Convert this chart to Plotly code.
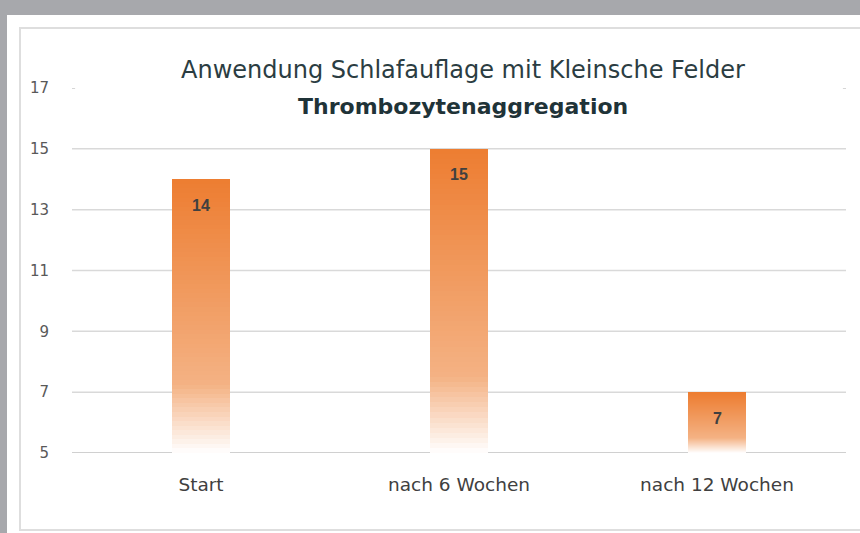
import plotly.graph_objects as go

categories = ["Start", "nach 6 Wochen", "nach 12 Wochen"]
values = [14, 15, 7]
tick_values = [5, 7, 9, 11, 13, 15, 17]
title_line1 = "Anwendung Schlafauflage mit Kleinsche Felder"
title_line2 = "Thrombozytenaggregation"

Y_MIN, Y_MAX = 5, 17
W, H = 860, 533
ML, MR, MT, MB = 72, 14, 88, 80
PW, PH = W - ML - MR, H - MT - MB


def px_x(p):
    return (p - ML) / PW


def px_y(p):
    return (H - MB - p) / PH


def lerp(c1, c2, t):
    return tuple(round(a + (b - a) * t) for a, b in zip(c1, c2))


ORANGE = (237, 125, 49)
MID = (244, 178, 132)
WHITE = (255, 255, 255)
BREAK = 0.25


def grad_color(f):
    # f = 1 at bar top, 0 at base
    if f >= BREAK:
        c = lerp(MID, ORANGE, (f - BREAK) / (1 - BREAK))
    else:
        c = lerp(WHITE, MID, f / BREAK)
    return "rgb(%d,%d,%d)" % c


fig = go.Figure()
N = 60
for k in range(N):
    f_mid = (k + 0.5) / N
    fig.add_trace(go.Bar(
        x=categories,
        y=[(v - Y_MIN) / N for v in values],
        base=[Y_MIN + (v - Y_MIN) * k / N for v in values],
        marker=dict(color=grad_color(f_mid), line=dict(width=0)),
        width=0.225,
        hoverinfo="skip",
        showlegend=False,
    ))

# data labels
for c, v in zip(categories, values):
    fig.add_annotation(
        x=c, y=v, text="<b>%d</b>" % v, showarrow=False, yanchor="middle", yshift=-26,
        font=dict(family="Liberation Sans, Arial", size=16, color="#404040"),
    )

shapes = []
# gridlines
for t in tick_values:
    if t == Y_MAX:
        for a, b in [(0.0, 0.004), (0.996, 1.0)]:
            shapes.append(dict(type="line", xref="paper", yref="y", x0=a, x1=b, y0=t, y1=t,
                               line=dict(color="#c8c8c8", width=1.5), layer="below"))
    else:
        shapes.append(dict(type="line", xref="paper", yref="y", x0=0, x1=1, y0=t, y1=t,
                           line=dict(color="#d9d9d9" if t != Y_MIN else "#d0d0d0",
                                     width=1.5 if t != Y_MIN else 2), layer="below"))

# frame: gray page bands and card border
shapes.append(dict(type="rect", xref="paper", yref="paper", x0=px_x(-5), x1=px_x(W + 5),
                   y0=px_y(15), y1=px_y(-5), fillcolor="#a7a8ac", line=dict(width=0), layer="above"))
shapes.append(dict(type="rect", xref="paper", yref="paper", x0=px_x(-5), x1=px_x(7),
                   y0=px_y(H + 5), y1=px_y(-5), fillcolor="#a7a8ac", line=dict(width=0), layer="above"))
shapes.append(dict(type="rect", xref="paper", yref="paper", x0=px_x(20), x1=px_x(W + 20),
                   y0=px_y(530), y1=px_y(28), fillcolor="rgba(0,0,0,0)",
                   line=dict(color="#dedede", width=2), layer="below"))

fig.add_annotation(
    xref="paper", yref="paper", x=px_x(463), y=px_y(70), text=title_line1, showarrow=False,
    xanchor="center", yanchor="middle",
    font=dict(family="DejaVu Sans", size=24, color="#2b3d42"),
)
fig.add_annotation(
    xref="paper", yref="paper", x=px_x(463), y=px_y(106), text="<b>" + title_line2 + "</b>", showarrow=False,
    xanchor="center", yanchor="middle",
    font=dict(family="DejaVu Sans", size=22, color="#1f3338"),
)

fig.update_layout(
    width=W, height=H,
    margin=dict(l=ML, r=MR, t=MT, b=MB),
    paper_bgcolor="white", plot_bgcolor="rgba(0,0,0,0)",
    barmode="stack",
    bargap=0.78,
    shapes=shapes,
    showlegend=False,
    xaxis=dict(
        showgrid=False, showline=False, zeroline=False, ticks="",
        tickfont=dict(family="DejaVu Sans", size=18.5, color="#404040"),
        ticklabelstandoff=18,
    ),
    yaxis=dict(
        range=[Y_MIN, Y_MAX], tickvals=tick_values, showgrid=False, zeroline=False,
        showline=False, ticks="",
        tickfont=dict(family="DejaVu Sans", size=15, color="#595959"),
        ticklabelstandoff=22,
    ),
)

fig.write_html("out.html", config={"displayModeBar": False},
               post_script="document.body.style.margin='0';")
